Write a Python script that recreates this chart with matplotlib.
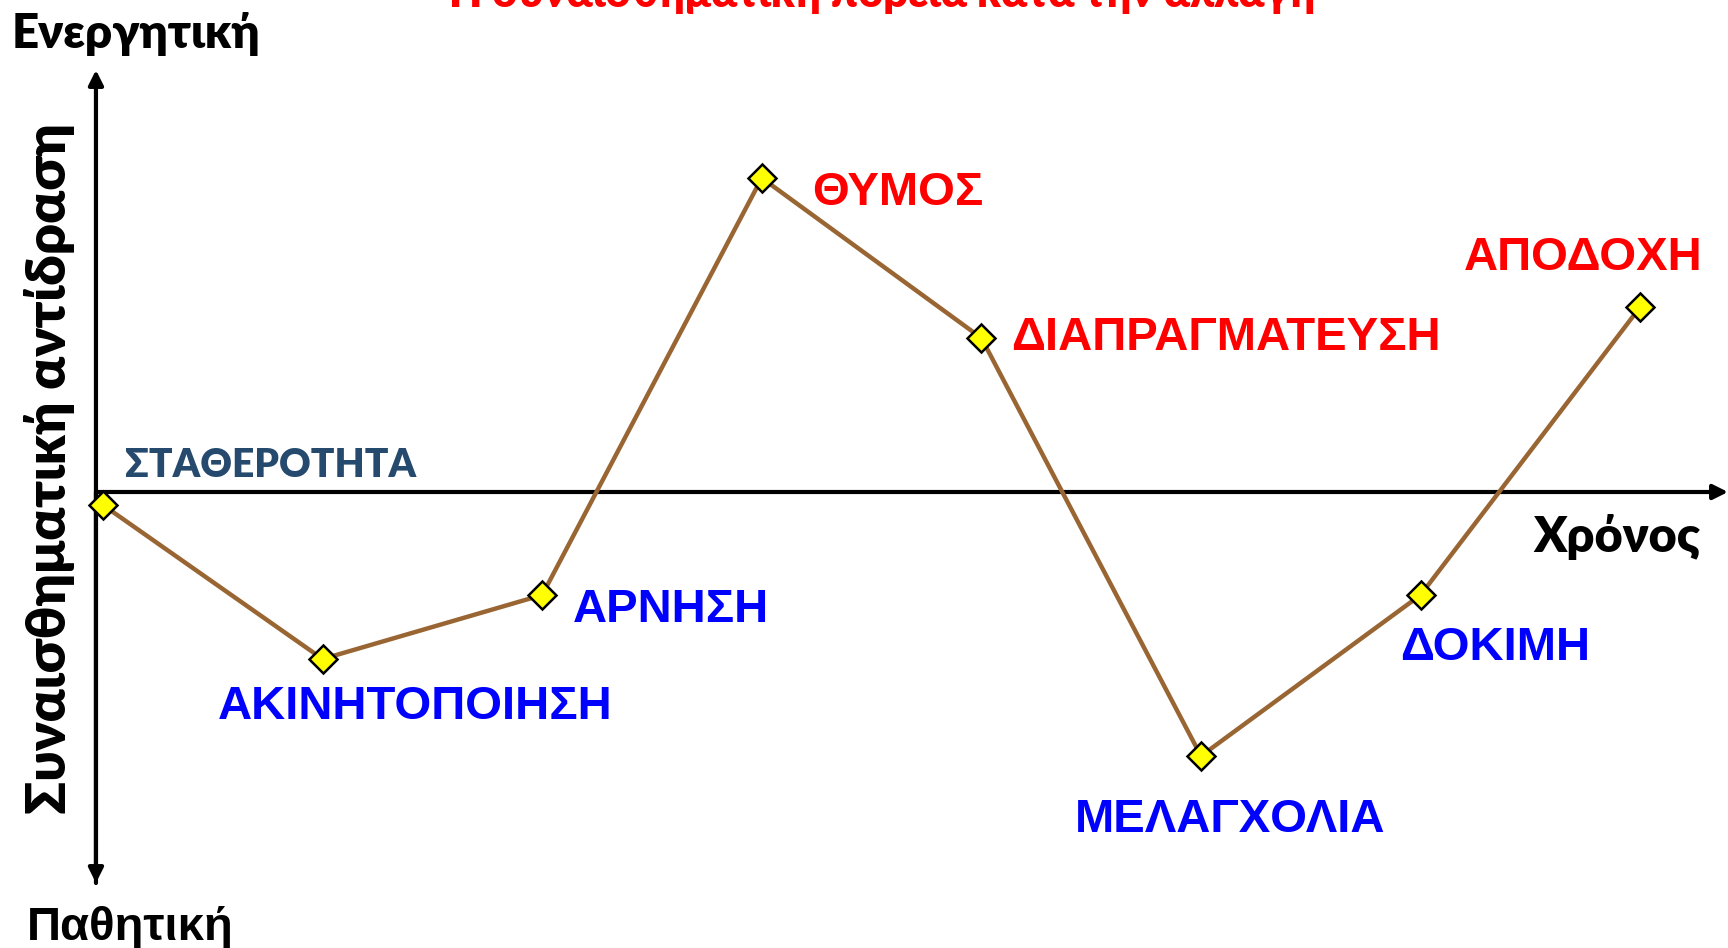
import matplotlib
matplotlib.use("Agg")
import matplotlib.pyplot as plt

W, H = 1728, 948

# stages of the change curve, in order of time
stages = ["ΣΤΑΘΕΡΟΤΗΤΑ", "ΑΚΙΝΗΤΟΠΟΙΗΣΗ", "ΑΡΝΗΣΗ", "ΘΥΜΟΣ",
          "ΔΙΑΠΡΑΓΜΑΤΕΥΣΗ", "ΜΕΛΑΓΧΟΛΙΑ", "ΔΟΚΙΜΗ", "ΑΠΟΔΟΧΗ"]
time = [0, 1, 2, 3, 4, 5, 6, 7]
response = [-0.13, -1.67, -1.03, 3.14, 1.54, -2.64, -1.03, 1.85]

title = "Η συναισθηματική πορεία κατά την αλλαγή"
y_label = "Συναισθηματική αντίδραση"
x_label = "Χρόνος"
top_label = "Ενεργητική"
bottom_label = "Παθητική"

# label colour, alignment and offset (pixels) from the point
label_style = [
    ("#264a6e", "left", 22, 28),
    ("#0000ff", "center", 93, -60),
    ("#0000ff", "left", 31, -27),
    ("#ff0000", "left", 50, -27),
    ("#ff0000", "left", 30, -12),
    ("#0000ff", "center", 29, -76),
    ("#0000ff", "center", 75, -65),
    ("#ff0000", "center", -57, 37),
]

CAL = ["Lato", "DejaVu Sans"]
ARI = ["Liberation Sans", "DejaVu Sans"]

fig = plt.figure(figsize=(W / 100, H / 100), dpi=100)
ax = fig.add_axes([0, 0, 1, 1])
ax.set_xlim(-0.469, 7.40)
ax.set_ylim(-4.56, 4.92)
ax.axis("off")


def fx(x):
    return x / W


def fy(y):
    return 1 - y / H


# axes arrows
arrow = dict(arrowstyle="-|>", lw=3, color="black", mutation_scale=22,
             shrinkA=0, shrinkB=0)
ax.annotate("", xy=(7.40, 0), xytext=(-0.032, 0), arrowprops=arrow, zorder=1)
ax.annotate("", xy=(-0.032, 4.22), xytext=(-0.032, -3.91), arrowprops=arrow, zorder=1)
ax.annotate("", xy=(-0.032, -3.91), xytext=(-0.032, 0), arrowprops=arrow, zorder=1)

ax.plot(time, response, color="#996633", lw=3.2, zorder=2)
ax.plot(time, response, ls="none", marker="D", ms=14.5, mfc="#ffff00",
        mec="black", mew=1.8, zorder=3)

for i, name in enumerate(stages):
    col, ha, dx, dy = label_style[i]
    fam = CAL if i == 0 else ARI
    size = 28 if i == 0 else 34
    weight = "heavy" if i == 0 else "bold"
    ax.annotate(name, (time[i], response[i]), xytext=(dx, dy),
                textcoords="offset pixels", ha=ha, va="baseline",
                color=col, fontsize=size, fontweight=weight, family=fam, zorder=4)

fig.text(fx(882), fy(7), title, ha="center", va="baseline", color="#ff0000",
         fontsize=31, fontweight="heavy", family=CAL)
fig.text(fx(12), fy(48), top_label, ha="left", va="baseline",
         fontsize=34, fontweight="heavy", family=CAL)
fig.text(fx(27), fy(940), bottom_label, ha="left", va="baseline",
         fontsize=34, fontweight="bold", family=ARI)
fig.text(fx(1700), fy(552), x_label, ha="right", va="baseline",
         fontsize=35, fontweight="heavy", family=CAL)
fig.text(fx(66), fy(468), y_label, ha="center", va="baseline", rotation=90,
         rotation_mode="anchor", fontsize=39, fontweight="heavy", family=CAL)

fig.savefig("out.png", dpi=100)
